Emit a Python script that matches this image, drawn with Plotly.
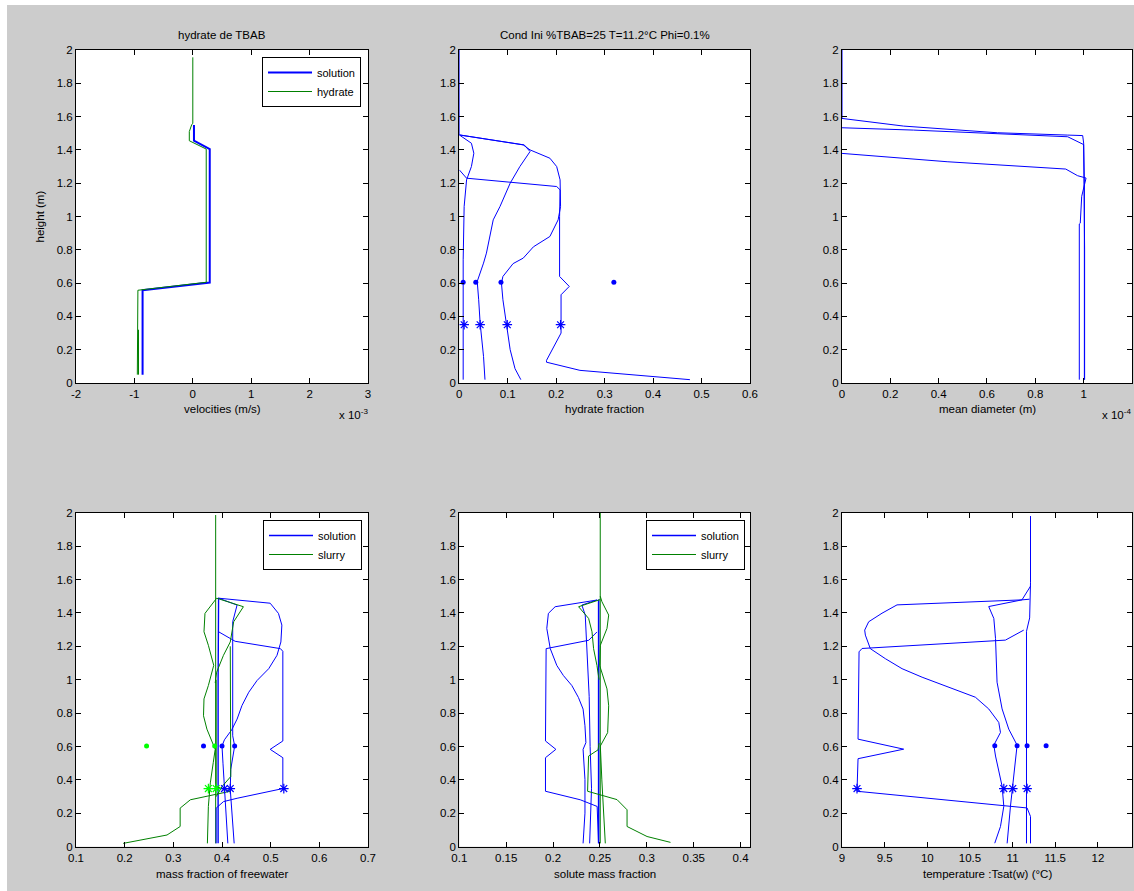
import plotly.graph_objects as go

# ---------------- data ----------------
# subplot 1 : velocities (x 1e-3 m/s)
vel_sol_x = [-0.86, -0.86, 0.29, 0.29, 0.02, 0.02]
vel_sol_y = [0.05, 0.557, 0.603, 1.405, 1.455, 1.55]
vel_hyd_x = [-0.95, -0.94, 0.23, 0.23, -0.06, -0.06, -0.02, 0.0, 0.0]
vel_hyd_y = [0.05, 0.557, 0.605, 1.405, 1.455, 1.51, 1.55, 1.56, 1.956]
vel_hyd2_x = [-0.93, -0.93]
vel_hyd2_y = [0.05, 0.32]

# subplot 2 : hydrate fraction
hf_A_x = [0.0, 0.0, 0.025, 0.030, 0.025, 0.015, 0.010, 0.008, 0.008]
hf_A_y = [2.0, 1.49, 1.44, 1.38, 1.30, 1.22, 1.06, 0.74, 0.02]
hf_B_x = [0.0, 0.015, 0.201, 0.208, 0.207, 0.207, 0.227, 0.210, 0.210, 0.198, 0.180, 0.180, 0.249, 0.476]
hf_B_y = [1.28, 1.23, 1.18, 1.16, 1.00, 0.64, 0.58, 0.53, 0.30, 0.236, 0.136, 0.125, 0.076, 0.02]
hf_C_x = [0.0, 0.132, 0.146, 0.187, 0.201, 0.208, 0.209, 0.204, 0.187, 0.153, 0.132, 0.111, 0.090, 0.087, 0.090, 0.097, 0.105, 0.115, 0.127]
hf_C_y = [1.49, 1.43, 1.40, 1.35, 1.30, 1.22, 1.06, 0.98, 0.88, 0.818, 0.75, 0.717, 0.64, 0.60, 0.50, 0.36, 0.20, 0.086, 0.02]
hf_D_x = [0.0, 0.134, 0.146, 0.125, 0.105, 0.084, 0.070, 0.056, 0.050, 0.037, 0.040, 0.043, 0.050, 0.053]
hf_D_y = [1.49, 1.43, 1.39, 1.30, 1.20, 1.06, 0.98, 0.78, 0.72, 0.61, 0.50, 0.36, 0.16, 0.02]
hf_dot_x = [0.008, 0.034, 0.086, 0.319]
hf_dot_y = [0.605, 0.605, 0.605, 0.605]
hf_star_x = [0.010, 0.043, 0.099, 0.209]
hf_star_y = [0.35, 0.35, 0.35, 0.35]

# subplot 3 : mean diameter (x 1e-4 m)
md_1_x = [0.0, 0.0, 0.255, 0.643, 0.934, 0.996, 1.000, 1.003, 1.003]
md_1_y = [2.0, 1.589, 1.543, 1.503, 1.489, 1.486, 1.441, 1.2, 0.02]
md_2_x = [0.0, 0.296, 0.934, 1.0, 1.004, 1.004]
md_2_y = [1.533, 1.519, 1.479, 1.432, 0.8, 0.02]
md_3_x = [0.0, 0.435, 0.926, 0.975, 1.010, 0.992, 0.986, 0.982, 0.982]
md_3_y = [1.379, 1.329, 1.285, 1.245, 1.231, 1.121, 0.96, 0.955, 0.02]

# subplot 4 : mass fraction of free water
fw_A_x = [0.393, 0.392, 0.392]
fw_A_y = [1.49, 1.0, 0.02]
fw_B_x = [0.393, 0.427, 0.520, 0.525, 0.525, 0.499, 0.525, 0.525, 0.431, 0.403, 0.388, 0.388]
fw_B_y = [1.287, 1.230, 1.186, 1.170, 0.633, 0.583, 0.533, 0.348, 0.290, 0.270, 0.231, 0.02]
fw_C_x = [0.393, 0.499, 0.516, 0.523, 0.521, 0.513, 0.496, 0.472, 0.455, 0.441, 0.431, 0.420, 0.405, 0.400, 0.402, 0.405, 0.410, 0.412]
fw_C_y = [1.488, 1.458, 1.397, 1.327, 1.226, 1.146, 1.066, 0.995, 0.925, 0.845, 0.764, 0.70, 0.64, 0.603, 0.50, 0.342, 0.14, 0.02]
fw_D_x = [0.393, 0.431, 0.422, 0.422, 0.426, 0.418, 0.417, 0.425]
fw_D_y = [1.488, 1.447, 1.347, 0.664, 0.603, 0.463, 0.342, 0.02]
fw_gM_x = [0.387, 0.387]
fw_gM_y = [1.986, 0.02]
fw_gC_x = [0.389, 0.365, 0.363, 0.372, 0.383, 0.372, 0.363, 0.362, 0.369, 0.381, 0.386, 0.382, 0.376, 0.372, 0.370]
fw_gC_y = [1.488, 1.397, 1.287, 1.206, 1.086, 0.965, 0.885, 0.784, 0.704, 0.623, 0.583, 0.503, 0.382, 0.241, 0.02]
fw_gD_x = [0.389, 0.444, 0.424, 0.417, 0.403, 0.389, 0.386]
fw_gD_y = [1.488, 1.437, 1.347, 1.226, 1.146, 1.045, 0.98]
fw_gE_x = [0.417, 0.417, 0.418, 0.400, 0.388]
fw_gE_y = [1.20, 0.62, 0.42, 0.36, 0.30]
fw_gB_x = [0.388, 0.388, 0.417, 0.335, 0.314, 0.314, 0.287, 0.197]
fw_gB_y = [1.0, 0.36, 0.332, 0.281, 0.231, 0.121, 0.07, 0.02]
fw_dot_x = [0.362, 0.400, 0.426]
fw_dot_y = [0.603, 0.603, 0.603]
fw_star_x = [0.405, 0.417, 0.527]
fw_star_y = [0.348, 0.348, 0.348]
fw_gdot_x = [0.245, 0.385]
fw_gdot_y = [0.603, 0.603]
fw_gstar_x = [0.372, 0.388]
fw_gstar_y = [0.348, 0.348]

# subplot 5 : solute mass fraction
sm_A_x = [0.2486, 0.2486]
sm_A_y = [1.48, 0.02]
sm_B_x = [0.2468, 0.238, 0.1926, 0.1919, 0.203, 0.1919, 0.1919, 0.229, 0.247, 0.2485]
sm_B_y = [1.286, 1.236, 1.186, 0.633, 0.583, 0.533, 0.332, 0.281, 0.241, 0.02]
sm_C_x = [0.2468, 0.2022, 0.195, 0.1933, 0.197, 0.204, 0.211, 0.220, 0.227, 0.232, 0.234, 0.235, 0.232, 0.234, 0.234, 0.232]
sm_C_y = [1.477, 1.437, 1.397, 1.307, 1.186, 1.085, 1.025, 0.965, 0.894, 0.824, 0.724, 0.623, 0.583, 0.402, 0.201, 0.02]
sm_D_x = [0.2468, 0.2307, 0.2343, 0.2360, 0.2385, 0.2395, 0.2410, 0.2390]
sm_D_y = [1.477, 1.447, 1.387, 1.2, 0.9, 0.6, 0.35, 0.02]
sm_gM_x = [0.2503, 0.2503]
sm_gM_y = [2.0, 0.02]
sm_gC_x = [0.2503, 0.2521, 0.2593, 0.2575, 0.2504, 0.2497, 0.2575, 0.2593, 0.2582, 0.2504, 0.2520, 0.2540, 0.2557]
sm_gC_y = [1.50, 1.467, 1.387, 1.307, 1.206, 1.085, 0.945, 0.844, 0.683, 0.603, 0.40, 0.20, 0.02]
sm_gD_x = [0.2503, 0.2272, 0.2379, 0.2415, 0.2432, 0.2468, 0.2490]
sm_gD_y = [1.48, 1.437, 1.367, 1.287, 1.186, 1.085, 1.0]
sm_gB_x = [0.2490, 0.2480, 0.2379, 0.2368, 0.2682, 0.2789, 0.2789, 0.3002, 0.3252]
sm_gB_y = [0.62, 0.58, 0.543, 0.332, 0.282, 0.221, 0.121, 0.061, 0.026]

# subplot 6 : temperature
t_A_x = [11.21, 11.21, 11.20, 11.163, 11.163]
t_A_y = [1.98, 1.58, 1.37, 1.29, 0.02]
t_B_x = [11.131, 10.916, 9.235, 9.200, 9.188, 9.723, 9.188, 9.176, 11.170, 11.210, 11.210]
t_B_y = [1.297, 1.237, 1.187, 1.167, 0.644, 0.584, 0.527, 0.332, 0.232, 0.181, 0.02]
t_C_x = [11.21, 11.11, 9.645, 9.469, 9.313, 9.266, 9.274, 9.332, 9.508, 9.704, 9.939, 10.251, 10.564, 10.72, 10.838, 10.858, 10.78, 10.80, 10.877, 10.897, 10.858, 10.791]
t_C_y = [1.56, 1.478, 1.448, 1.398, 1.347, 1.297, 1.267, 1.186, 1.126, 1.066, 1.015, 0.955, 0.895, 0.825, 0.744, 0.684, 0.608, 0.543, 0.362, 0.242, 0.121, 0.021]
t_D_x = [11.198, 11.11, 10.72, 10.78, 10.80, 10.818, 10.877, 10.955, 11.053, 11.014, 10.975, 10.936]
t_D_y = [1.482, 1.478, 1.438, 1.367, 1.247, 0.985, 0.825, 0.704, 0.608, 0.443, 0.242, 0.02]
t_dot_x = [10.791, 11.053, 11.17, 11.393]
t_dot_y = [0.605, 0.605, 0.605, 0.605]
t_star_x = [9.176, 10.897, 11.002, 11.17]
t_star_y = [0.348, 0.348, 0.348, 0.348]

# tick labels
y_ticks = [0, 0.2, 0.4, 0.6, 0.8, 1.0, 1.2, 1.4, 1.6, 1.8, 2.0]
y_ticktext = ["0", "0.2", "0.4", "0.6", "0.8", "1", "1.2", "1.4", "1.6", "1.8", "2"]
x1_ticks = [-2, -1, 0, 1, 2, 3]
x1_ticktext = ["-2", "-1", "0", "1", "2", "3"]
x2_ticks = [0, 0.1, 0.2, 0.3, 0.4, 0.5, 0.6]
x2_ticktext = ["0", "0.1", "0.2", "0.3", "0.4", "0.5", "0.6"]
x3_ticks = [0, 0.2, 0.4, 0.6, 0.8, 1.0, 1.2]
x3_ticktext = ["0", "0.2", "0.4", "0.6", "0.8", "1", "1.2"]
x4_ticks = [0.1, 0.2, 0.3, 0.4, 0.5, 0.6, 0.7]
x4_ticktext = ["0.1", "0.2", "0.3", "0.4", "0.5", "0.6", "0.7"]
x5_ticks = [0.1, 0.15, 0.2, 0.25, 0.3, 0.35, 0.4]
x5_ticktext = ["0.1", "0.15", "0.2", "0.25", "0.3", "0.35", "0.4"]
x6_ticks = [9, 9.5, 10, 10.5, 11, 11.5, 12]
x6_ticktext = ["9", "9.5", "10", "10.5", "11", "11.5", "12"]

# ---------------- figure ----------------
W, H = 1134, 891
FONT = "Liberation Sans, Arial, Helvetica, sans-serif"
BLUE = "#0000ff"
GREEN = "#008000"
LIME = "#00ff00"

fig = go.Figure()


def line(x, y, k, color=BLUE, width=1.0, name=None, legend=None):
    ax = "" if k == 1 else str(k)
    fig.add_trace(go.Scatter(
        x=x, y=y, mode="lines", xaxis="x" + ax, yaxis="y" + ax,
        line=dict(color=color, width=width),
        name=name, showlegend=legend is not None,
        legend=legend if legend else "legend", hoverinfo="skip"))


def marks(x, y, k, symbol, color, size):
    ax = "" if k == 1 else str(k)
    if symbol == "asterisk-open":
        mk = dict(symbol=symbol, size=size, line=dict(color=color, width=1.2), color=color)
    else:
        mk = dict(symbol=symbol, size=size, color=color, line=dict(width=0))
    fig.add_trace(go.Scatter(x=x, y=y, mode="markers", xaxis="x" + ax, yaxis="y" + ax,
                             marker=mk, showlegend=False, hoverinfo="skip"))


# subplot 1
line(vel_sol_x, vel_sol_y, 1, BLUE, 2.0, "solution", "legend")
line(vel_hyd_x, vel_hyd_y, 1, GREEN, 1.0, "hydrate", "legend")
line(vel_hyd2_x, vel_hyd2_y, 1, GREEN, 1.0)

# subplot 2
for xs, ys in [(hf_A_x, hf_A_y), (hf_B_x, hf_B_y), (hf_C_x, hf_C_y), (hf_D_x, hf_D_y)]:
    line(xs, ys, 2)
marks(hf_dot_x, hf_dot_y, 2, "circle", BLUE, 5)
marks(hf_star_x, hf_star_y, 2, "asterisk-open", BLUE, 8)

# subplot 3
for xs, ys in [(md_1_x, md_1_y), (md_2_x, md_2_y), (md_3_x, md_3_y)]:
    line(xs, ys, 3)

# subplot 4
line(fw_A_x, fw_A_y, 4, BLUE, 1.4, "solution", "legend2")
line(fw_gM_x, fw_gM_y, 4, GREEN, 1.0, "slurry", "legend2")
for xs, ys in [(fw_B_x, fw_B_y), (fw_C_x, fw_C_y), (fw_D_x, fw_D_y)]:
    line(xs, ys, 4)
for xs, ys in [(fw_gC_x, fw_gC_y), (fw_gD_x, fw_gD_y), (fw_gE_x, fw_gE_y), (fw_gB_x, fw_gB_y)]:
    line(xs, ys, 4, GREEN)
marks(fw_dot_x, fw_dot_y, 4, "circle", BLUE, 5)
marks(fw_star_x, fw_star_y, 4, "asterisk-open", BLUE, 8)
marks(fw_gdot_x, fw_gdot_y, 4, "circle", LIME, 5)
marks(fw_gstar_x, fw_gstar_y, 4, "asterisk-open", LIME, 8)

# subplot 5
line(sm_A_x, sm_A_y, 5, BLUE, 1.6, "solution", "legend3")
line(sm_gM_x, sm_gM_y, 5, GREEN, 1.0, "slurry", "legend3")
for xs, ys in [(sm_B_x, sm_B_y), (sm_C_x, sm_C_y), (sm_D_x, sm_D_y)]:
    line(xs, ys, 5)
for xs, ys in [(sm_gC_x, sm_gC_y), (sm_gD_x, sm_gD_y), (sm_gB_x, sm_gB_y)]:
    line(xs, ys, 5, GREEN)

# subplot 6
for xs, ys in [(t_A_x, t_A_y), (t_B_x, t_B_y), (t_C_x, t_C_y), (t_D_x, t_D_y)]:
    line(xs, ys, 6)
marks(t_dot_x, t_dot_y, 6, "circle", BLUE, 5)
marks(t_star_x, t_star_y, 6, "asterisk-open", BLUE, 8)

# ---------------- layout ----------------
def px(x):
    return x / W


def py(y):
    return 1 - y / H


COLS = [(76, 368), (459.3, 750), (842, 1132)]
ROWS = [(50, 383), (512.7, 846.7)]
XR = [(-2, 3), (0, 0.6), (0, 1.2001), (0.1, 0.7), (0.1, 0.41), (9, 12.4)]
XT = [(x1_ticks, x1_ticktext), (x2_ticks, x2_ticktext), (x3_ticks, x3_ticktext),
      (x4_ticks, x4_ticktext), (x5_ticks, x5_ticktext), (x6_ticks, x6_ticktext)]

axis_common = dict(showline=True, linecolor="black", linewidth=1, mirror="ticks",
                   ticks="inside", ticklen=5, tickcolor="black", tickwidth=1,
                   showgrid=False, zeroline=False, automargin=False, fixedrange=True,
                   tickfont=dict(family=FONT, size=11.5, color="black"))

layout = dict(width=W, height=H, margin=dict(l=0, r=0, t=0, b=0),
              paper_bgcolor="#cccccc", plot_bgcolor="white",
              font=dict(family=FONT, size=11.5, color="black"))

for k in range(6):
    r, c = divmod(k, 3)
    ax = "" if k == 0 else str(k + 1)
    xd = [px(COLS[c][0]), px(COLS[c][1])]
    yd = [py(ROWS[r][1]), py(ROWS[r][0])]
    layout["xaxis" + ax] = dict(axis_common, domain=xd, range=list(XR[k]),
                                tickvals=XT[k][0], ticktext=XT[k][1],
                                anchor="y" + ax)
    layout["yaxis" + ax] = dict(axis_common, domain=yd, range=[0, 2],
                                tickvals=y_ticks, ticktext=y_ticktext,
                                anchor="x" + ax)

leg_common = dict(bgcolor="white", bordercolor="black", borderwidth=1,
                  font=dict(family=FONT, size=11, color="black"),
                  xanchor="right", yanchor="top", itemwidth=44,
                  tracegroupgap=0)
layout["legend"] = dict(leg_common, x=px(361), y=py(57))
layout["legend2"] = dict(leg_common, x=px(362), y=py(520))
layout["legend3"] = dict(leg_common, x=px(745), y=py(520))

fig.update_layout(**layout)

# background white strips (figure window edge)
fig.add_shape(type="rect", xref="paper", yref="paper", x0=0, x1=px(7), y0=0, y1=1,
              fillcolor="white", line_width=0, layer="below")
fig.add_shape(type="rect", xref="paper", yref="paper", x0=0, x1=1, y0=py(5), y1=1,
              fillcolor="white", line_width=0, layer="below")

# titles and axis labels
texts = [
    ("hydrate de TBAB", 222, 35),
    ("Cond Ini %TBAB=25 T=11.2°C Phi=0.1%", 604.6, 35),
    ("velocities (m/s)", 222, 409),
    ("hydrate fraction", 604.6, 409),
    ("mean diameter (m)", 987, 409),
    ("mass fraction of freewater", 222, 874),
    ("solute mass fraction", 604.6, 874),
    ("temperature :Tsat(w) (°C)", 987, 874),
]
for t, x, y in texts:
    fig.add_annotation(text=t, x=px(x), y=py(y), xref="paper", yref="paper",
                       xanchor="center", yanchor="middle", showarrow=False,
                       font=dict(family=FONT, size=11.5, color="black"))
fig.add_annotation(text="height (m)", x=px(40), y=py(216.5), xref="paper", yref="paper",
                   xanchor="center", yanchor="middle", showarrow=False, textangle=-90,
                   font=dict(family=FONT, size=11.5, color="black"))
fig.add_annotation(text="x 10<sup>-3</sup>", x=px(337), y=py(414), xref="paper", yref="paper",
                   xanchor="left", yanchor="middle", showarrow=False,
                   font=dict(family=FONT, size=11.5, color="black"))
fig.add_annotation(text="x 10<sup>-4</sup>", x=px(1100), y=py(414), xref="paper", yref="paper",
                   xanchor="left", yanchor="middle", showarrow=False,
                   font=dict(family=FONT, size=11.5, color="black"))

fig.write_html("out.html", include_plotlyjs=True, full_html=True,
               config={"displayModeBar": False},
               post_script="document.body.style.margin='0';document.body.style.overflow='hidden';")
